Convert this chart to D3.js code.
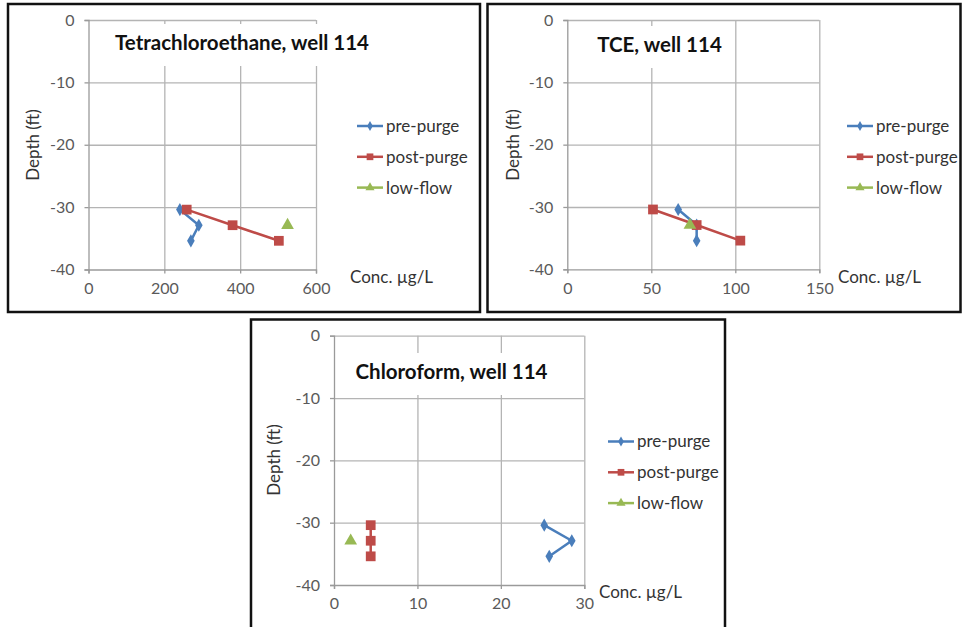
<!DOCTYPE html>
<html>
<head>
<meta charset="utf-8">
<script src="https://cdn.jsdelivr.net/npm/d3@7"></script>
<style>
  html, body { margin: 0; padding: 0; background: #fff; }
  svg { display: block; }
  text { font-family: Lato, "Open Sans", "Liberation Sans", sans-serif; }
</style>
</head>
<body>
<svg id="chart" width="962" height="627"></svg>
<script>
// ---------------- data ----------------
const seriesNames = ["pre-purge", "post-purge", "low-flow"];
const depths = [-30.4, -32.9, -35.4];
const lowFlowDepths = [-32.9];
const yTicks = [0, -10, -20, -30, -40];

const titles = ["Tetrachloroethane, well 114", "TCE, well 114", "Chloroform, well 114"];
const xTicksTetra = [0, 200, 400, 600];
const xTicksTCE = [0, 50, 100, 150];
const xTicksChloro = [0, 10, 20, 30];

const tetraPre = [241, 291, 270];
const tetraPost = [259, 380, 502];
const tetraLow = [525];

const tcePre = [66, 77, 77];
const tcePost = [51, 77, 103];
const tceLow = [73];

const chloroPre = [25.2, 28.5, 25.8];
const chloroPost = [4.4, 4.4, 4.4];
const chloroLow = [2.0];

const xLabel = "Conc. \u00b5g/L";
const yLabel = "Depth (ft)";

// ---------------- styles ----------------
const colors = ["#4a7ebb", "#be4b48", "#98b954"];
const symbols = [d3.symbolDiamond, d3.symbolSquare, d3.symbolTriangle];
const symSizes = [50, 95, 70];
const legSymSizes = [28, 45, 36];

// ---------------- layout ----------------
const panels = [
  { box: [8, 4, 472, 308], plot: [88.5, 20, 316, 269.5], xTicks: xTicksTetra,
    pre: tetraPre, post: tetraPost, low: tetraLow, title: titles[0], titleY: 43,
    titleX: 242, legend: [357, 126], xlab: [350, 277], ylab: [33, 145] },
  { box: [487.5, 4, 473, 308], plot: [567.3, 20, 819.3, 269.3], xTicks: xTicksTCE,
    pre: tcePre, post: tcePost, low: tceLow, title: titles[1], titleY: 45,
    titleX: 659.5, legend: [847, 126], xlab: [838, 277], ylab: [513, 145] },
  { box: [251, 319.5, 474, 320], plot: [334, 335.7, 584.3, 585], xTicks: xTicksChloro,
    pre: chloroPre, post: chloroPost, low: chloroLow, title: titles[2], titleY: 372,
    titleX: 451.5, legend: [608, 441.5], xlab: [599, 592], ylab: [274, 460] }
];

const svg = d3.select("#chart");
svg.append("rect").attr("width", 962).attr("height", 627).attr("fill", "#fff");

panels.forEach(p => {
  const g = svg.append("g");
  const [bx, by, bw, bh] = p.box;
  g.append("rect").attr("x", bx).attr("y", by).attr("width", bw).attr("height", bh)
    .attr("fill", "#fff").attr("stroke", "#111").attr("stroke-width", 2.5);

  const [x0, y0, x1, y1] = p.plot;
  const xs = d3.scaleLinear().domain([p.xTicks[0], p.xTicks[p.xTicks.length - 1]]).range([x0, x1]);
  const ys = d3.scaleLinear().domain([0, -40]).range([y0, y1]);

  // gridlines
  const gx = g.append("g").attr("transform", `translate(0,${y1})`)
    .call(d3.axisBottom(xs).tickValues(p.xTicks.slice(1)).tickSize(-(y1 - y0)).tickFormat(""));
  const gy = g.append("g").attr("transform", `translate(${x0},0)`)
    .call(d3.axisLeft(ys).tickValues(yTicks.slice(0, -1)).tickSize(-(x1 - x0)).tickFormat(""));
  [gx, gy].forEach(a => {
    a.select(".domain").remove();
    a.selectAll("line").attr("stroke", "#b4b4b4").attr("stroke-width", 1.3);
  });

  // title with white backing
  const tbg = g.append("rect").attr("fill", "#fff");
  const t = g.append("text").attr("x", p.titleX).attr("y", p.titleY).attr("dy", "0.36em")
    .attr("text-anchor", "middle").attr("font-size", 20.5).attr("font-weight", "bold")
    .attr("fill", "#111").text(p.title);
  const bb = t.node().getBBox();
  tbg.attr("x", bb.x - 8).attr("y", p.titleY - 19)
    .attr("width", bb.width + 16).attr("height", 42);

  // axes
  const fmt = d => String(d);
  const ax = g.append("g").attr("transform", `translate(0,${y1})`)
    .call(d3.axisBottom(xs).tickValues(p.xTicks).tickSize(4).tickPadding(9).tickFormat(fmt));
  const ay = g.append("g").attr("transform", `translate(${x0},0)`)
    .call(d3.axisLeft(ys).tickValues(yTicks).tickSize(4).tickPadding(10).tickFormat(fmt));
  [ax, ay].forEach(a => {
    a.select(".domain").attr("stroke", "#9a9a9a").attr("stroke-width", 1.3);
    a.selectAll(".tick line").attr("stroke", "#9a9a9a").attr("stroke-width", 1.3);
    a.selectAll(".tick text").attr("fill", "#5a5a5a").attr("font-size", 16)
      .attr("font-family", "Lato, 'Open Sans', sans-serif");
  });

  // series
  const series = [
    { xv: p.pre, yv: depths },
    { xv: p.post, yv: depths },
    { xv: p.low, yv: lowFlowDepths }
  ];
  const line = d3.line().x(d => xs(d[0])).y(d => ys(d[1]));
  series.forEach((s, i) => {
    const pts = s.xv.map((v, k) => [v, s.yv[k]]);
    if (pts.length > 1) {
      g.append("path").datum(pts).attr("d", line).attr("fill", "none")
        .attr("stroke", colors[i]).attr("stroke-width", 2.5).attr("stroke-linejoin", "round");
    }
    g.selectAll(null).data(pts).enter().append("path")
      .attr("d", d3.symbol().type(symbols[i]).size(symSizes[i]))
      .attr("transform", d => `translate(${xs(d[0])},${ys(d[1])})`)
      .attr("fill", colors[i]);
  });

  // legend
  const [lx, ly] = p.legend;
  seriesNames.forEach((name, i) => {
    const yy = ly + i * 30.8;
    g.append("line").attr("x1", lx).attr("x2", lx + 26).attr("y1", yy).attr("y2", yy)
      .attr("stroke", colors[i]).attr("stroke-width", 2.5);
    g.append("path").attr("d", d3.symbol().type(symbols[i]).size(legSymSizes[i]))
      .attr("transform", `translate(${lx + 13},${yy})`).attr("fill", colors[i]);
    g.append("text").attr("x", lx + 29).attr("y", yy).attr("dy", "0.35em")
      .attr("font-size", 17).attr("fill", "#333").text(name);
  });

  // axis titles
  g.append("text").attr("x", p.xlab[0]).attr("y", p.xlab[1]).attr("dy", "0.35em")
    .attr("font-size", 17).attr("fill", "#333").text(xLabel);
  g.append("text").attr("transform", `translate(${p.ylab[0]},${p.ylab[1]}) rotate(-90)`)
    .attr("text-anchor", "middle").attr("dy", "0.35em")
    .attr("font-size", 17).attr("fill", "#333").text(yLabel);
});
</script>
</body>
</html>
